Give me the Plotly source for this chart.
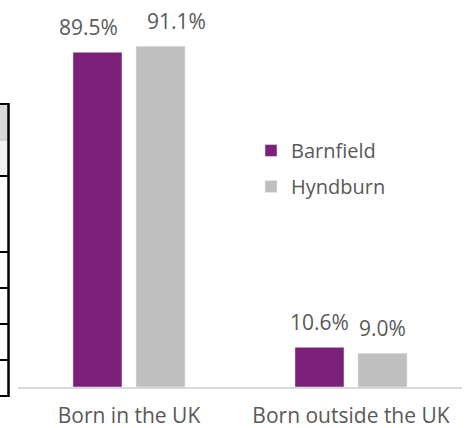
import plotly.graph_objects as go

# --- DATA ---
categories = ["Born in the UK", "Born outside the UK"]
series_names = ["Barnfield", "Hyndburn"]
barnfield = [89.5, 10.6]
hyndburn = [91.1, 9.0]

# --- THEME ---
PURPLE = "#7B2179"
GREY = "#BFBFBF"
TEXT_COLOR = "#595959"
AXIS_COLOR = "#D9D9D9"
FONT = "Open Sans"

W, H = 470, 428
L, R, T, B = 18, 8, 13, 41


def px_x(x):
    return (x - L) / (W - L - R)


def px_y(y):
    return (H - B - y) / (H - T - B)


fig = go.Figure()
for name, vals, col in zip(series_names, [barnfield, hyndburn], [PURPLE, GREY]):
    fig.add_trace(go.Bar(x=categories, y=vals, name=name, marker_color=col,
                         legendgroup=name, hoverinfo="skip"))

# data labels above bars (slightly nudged like the original)
nudges = [[-9, 16], [0, 0]]
for i, cat in enumerate(categories):
    for j, vals in enumerate([barnfield, hyndburn]):
        fig.add_annotation(x=cat, y=vals[i], text=f"{vals[i]:.1f}%",
                           showarrow=False, xshift=(j - 0.5) * 63 + nudges[i][j],
                           yshift=25, font=dict(size=21, color=TEXT_COLOR, family=FONT))

# fragment of a neighbouring table at the left edge
shapes = [
    dict(type="rect", x0=px_x(-2), x1=px_x(8), y0=px_y(140), y1=px_y(104),
         fillcolor="#D9D9D9", line_width=0),
    dict(type="rect", x0=px_x(-2), x1=px_x(8), y0=px_y(176), y1=px_y(140),
         fillcolor="#F2F2F2", line_width=0),
]
for y in [104, 176, 252, 288, 324, 360, 396]:
    shapes.append(dict(type="line", x0=px_x(-2), x1=px_x(9), y0=px_y(y), y1=px_y(y),
                       line=dict(color="black", width=2)))
shapes.append(dict(type="line", x0=px_x(-2), x1=px_x(8), y0=px_y(140), y1=px_y(140),
                   line=dict(color="#BFBFBF", width=1)))
shapes.append(dict(type="line", x0=px_x(8.5), x1=px_x(8.5), y0=px_y(103), y1=px_y(397),
                   line=dict(color="black", width=2.5)))
for s in shapes:
    s.update(xref="paper", yref="paper", layer="above")

fig.update_layout(
    barmode="group",
    bargap=0.432,
    bargroupgap=0.222,
    width=W, height=H,
    margin=dict(l=L, r=R, t=T, b=B, autoexpand=False),
    paper_bgcolor="white",
    plot_bgcolor="white",
    font=dict(family=FONT, color=TEXT_COLOR, size=21),
    showlegend=True,
    legend=dict(x=px_x(251), y=px_y(131), xanchor="left", yanchor="top",
                tracegroupgap=7, font=dict(size=20, color=TEXT_COLOR),
                bgcolor="rgba(0,0,0,0)"),
    shapes=shapes,
    xaxis=dict(showline=True, linecolor=AXIS_COLOR, linewidth=1.5, ticks="",
               ticklabelstandoff=9, automargin=False,
               tickfont=dict(size=21, color=TEXT_COLOR), showgrid=False),
    yaxis=dict(range=[0, 100], visible=False, showgrid=False),
)

# page body margin off so the 470x428 figure fills the window
fig.write_html("out.html", config={"displayModeBar": False},
               post_script="document.body.style.margin='0';")
